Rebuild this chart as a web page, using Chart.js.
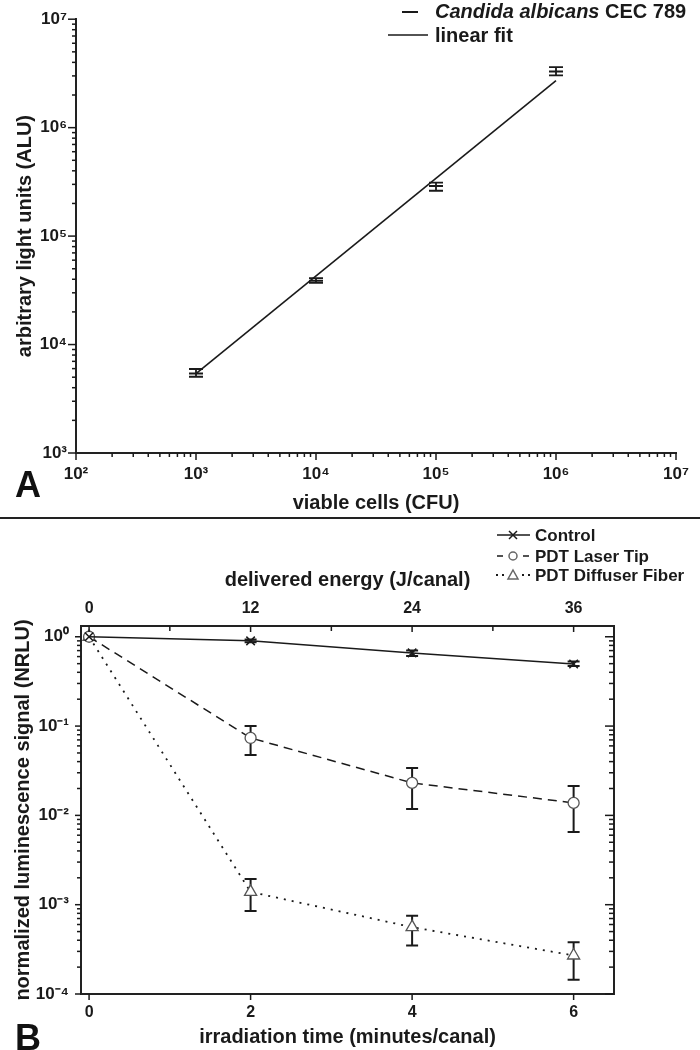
<!DOCTYPE html>
<html><head><meta charset="utf-8">
<script src="https://cdn.jsdelivr.net/npm/chart.js@4.4.0/dist/chart.umd.min.js"></script>
<style>
html,body{margin:0;padding:0;background:#fff;}
#wrap{position:relative;width:700px;height:1050px;overflow:hidden;background:#fff;}
#cA{position:absolute;left:0;top:0;}
#cB{position:absolute;left:0;top:520px;}
#sep{position:absolute;left:0;top:517px;width:700px;height:2px;background:#222;}
.panel{position:absolute;font:bold 36px "Liberation Sans",Arial,sans-serif;line-height:36px;color:#111;}
</style></head><body>
<div id="wrap">
<canvas id="cA" width="700" height="518"></canvas>
<div id="sep"></div>
<canvas id="cB" width="700" height="530"></canvas>
<div class="panel" style="left:15px;top:467px;">A</div>
<div class="panel" style="left:15px;top:1020px;">B</div>
</div>
<script>
// ---------- Panel A data ----------
const xTicksA=[1e2,1e3,1e4,1e5,1e6,1e7];
const xTickLabelsA=['10²','10³','10⁴','10⁵','10⁶','10⁷'];
const yTicksA=[1e3,1e4,1e5,1e6,1e7];
const yTickLabelsA=['10³','10⁴','10⁵','10⁶','10⁷'];
const cellsA=[1e3,1e4,1e5,1e6];
const aluA=[5400,38800,290000,3300000];
const aluLowA=[5050,37000,262000,3030000];
const aluHighA=[5950,41000,311000,3620000];
const fitXA=[1e3,1e6];
const fitYA=[5400,2720000];
const seriesNameA='Candida albicans';
const strainA='CEC 789';
const fitNameA='linear fit';

// ---------- Panel B data ----------
const timeB=[0,2,4,6];
const xTicksB=[0,2,4,6];
const energyTicksB=[0,12,24,36];
const energyMinorB=[6,18,30];
const yTicksB=[1e-4,1e-3,1e-2,1e-1,1];
const yTickLabelsB=['10⁻⁴','10⁻³','10⁻²','10⁻¹','10⁰'];
const controlB=[1,0.90,0.66,0.495];
const controlLowB=[null,0.87,0.61,0.47];
const controlHighB=[null,0.93,0.70,0.53];
const laserB=[1,0.0736,0.0231,0.0138];
const laserLowB=[null,0.0474,0.0118,0.0065];
const laserHighB=[null,0.100,0.034,0.0213];
const diffB=[1,0.00139,0.00056,0.00027];
const diffLowB=[null,0.00085,0.00035,0.000144];
const diffHighB=[null,0.00194,0.00075,0.00038];
const seriesNamesB=['Control','PDT Laser Tip','PDT Diffuser Fiber'];

const FONT='"Liberation Sans", Arial, sans-serif';
const INK='#1a1a1a';
Chart.defaults.font.family=FONT;
Chart.defaults.font.weight='bold';
Chart.defaults.color=INK;

function logMinors(decades){const out=[];for(let i=0;i<decades.length-1;i++){for(let k=2;k<=9;k++)out.push(decades[i]*k);}return out;}

// error bars through scales
const errorBars={id:'errorBars',beforeDatasetsDraw(chart,args,opts){
  const ctx=chart.ctx;ctx.save();ctx.strokeStyle=INK;ctx.lineWidth=opts.lineWidth||2;
  chart.data.datasets.forEach((ds,di)=>{
    if(!ds.errLow)return;
    const xs=chart.scales[ds.xAxisID||'x'],ys=chart.scales[ds.yAxisID||'y'];
    ds.data.forEach((pt,i)=>{
      const lo=ds.errLow[i],hi=ds.errHigh[i];if(lo==null||hi==null)return;
      const px=xs.getPixelForValue(pt.x),p1=ys.getPixelForValue(lo),p2=ys.getPixelForValue(hi);
      const w=opts.cap||6;
      ctx.beginPath();ctx.moveTo(px,p1);ctx.lineTo(px,p2);
      ctx.moveTo(px-w,p1);ctx.lineTo(px+w,p1);ctx.moveTo(px-w,p2);ctx.lineTo(px+w,p2);ctx.stroke();
    });
  });
  ctx.restore();
}};

// tick marks through scales
const tickMarks={id:'tickMarks',afterDraw(chart,args,opts){
  const ctx=chart.ctx,ca=chart.chartArea;ctx.save();ctx.strokeStyle=INK;ctx.lineWidth=opts.lineWidth||1.5;
  (opts.items||[]).forEach(t=>{
    const s=chart.scales[t.scale];
    t.values.forEach(v=>{
      const p=s.getPixelForValue(v);const sgn=t.out?1:-1;ctx.beginPath();
      if(t.edge==='bottom'){ctx.moveTo(p,ca.bottom);ctx.lineTo(p,ca.bottom+sgn*t.len);}
      else if(t.edge==='top'){ctx.moveTo(p,ca.top);ctx.lineTo(p,ca.top-sgn*t.len);}
      else if(t.edge==='left'){ctx.moveTo(ca.left,p);ctx.lineTo(ca.left-sgn*t.len,p);}
      else {ctx.moveTo(ca.right,p);ctx.lineTo(ca.right+sgn*t.len,p);}
      ctx.stroke();
    });
  });
  ctx.restore();
}};

// ---------- Chart A ----------
const legendA={id:'legendA',afterDraw(chart){
  const ctx=chart.ctx;ctx.save();ctx.strokeStyle=INK;ctx.fillStyle=INK;
  ctx.lineWidth=2;ctx.beginPath();ctx.moveTo(402,12);ctx.lineTo(418,12);ctx.stroke();
  ctx.lineWidth=1.5;ctx.beginPath();ctx.moveTo(388,35);ctx.lineTo(428,35);ctx.stroke();
  ctx.textBaseline='middle';ctx.textAlign='left';
  ctx.font='italic bold 20px '+FONT;ctx.fillText(seriesNameA,435,12);
  const w=ctx.measureText(seriesNameA+' ').width;
  ctx.font='bold 20px '+FONT;ctx.fillText(strainA,435+w,12);
  ctx.fillText(fitNameA,435,36);
  ctx.restore();
}};

new Chart(document.getElementById('cA'),{
  type:'scatter',
  data:{datasets:[
    {label:seriesNameA+' '+strainA,data:cellsA.map((x,i)=>({x,y:aluA[i]})),errLow:aluLowA,errHigh:aluHighA,
     showLine:false,pointStyle:'line',pointRadius:7,pointBorderWidth:2,borderColor:INK,backgroundColor:INK},
    {label:fitNameA,data:fitXA.map((x,i)=>({x,y:fitYA[i]})),showLine:true,pointRadius:0,borderColor:INK,borderWidth:1.6}
  ]},
  options:{
    responsive:false,animation:false,
    layout:{padding:{left:0,right:24,top:15,bottom:0}},
    plugins:{legend:{display:false},tooltip:{enabled:false},
      errorBars:{cap:7,lineWidth:1.8},
      tickMarks:{lineWidth:1.5,items:[
        {scale:'x',edge:'bottom',out:true,len:7,values:xTicksA},
        {scale:'x',edge:'bottom',out:true,len:4,values:logMinors(xTicksA)},
        {scale:'y',edge:'left',out:true,len:8,values:yTicksA},
        {scale:'y',edge:'left',out:true,len:4,values:logMinors(yTicksA)}
      ]}},
    scales:{
      x:{type:'logarithmic',position:'bottom',min:1e2,max:1e7,bounds:'data',
        afterBuildTicks:s=>{s.ticks=xTicksA.map(v=>({value:v}));},
        afterFit:s=>{s.height=65;},
        ticks:{autoSkip:false,maxRotation:0,padding:11,color:INK,font:{size:17,weight:'bold'},callback:(v,i)=>xTickLabelsA[i]},
        grid:{display:false,drawTicks:false},border:{display:true,color:'#222',width:2},
        title:{display:true,text:'viable cells (CFU)',color:INK,font:{size:20,weight:'bold'},padding:{top:0,bottom:3}}},
      y:{type:'logarithmic',position:'left',min:1e3,max:1e7,bounds:'data',
        afterBuildTicks:s=>{s.ticks=yTicksA.map(v=>({value:v}));},
        afterFit:s=>{s.width=76;},
        ticks:{autoSkip:false,padding:9,color:INK,font:{size:17,weight:'bold'},callback:(v,i)=>yTickLabelsA[i]},
        grid:{display:false,drawTicks:false},border:{display:true,color:'#222',width:2},
        title:{display:true,text:'arbitrary light units (ALU)',color:INK,font:{size:20,weight:'bold'},padding:{top:13,bottom:0}}}
    }
  },
  plugins:[errorBars,tickMarks,legendA]
});

// ---------- Chart B ----------
const legendB={id:'legendB',afterDraw(chart){
  const ctx=chart.ctx;ctx.save();ctx.strokeStyle=INK;ctx.fillStyle=INK;ctx.lineWidth=1.5;
  const rows=[15,36,55];
  // Control
  ctx.beginPath();ctx.moveTo(497,rows[0]);ctx.lineTo(530,rows[0]);ctx.stroke();
  ctx.beginPath();ctx.moveTo(509,rows[0]-4);ctx.lineTo(517,rows[0]+4);ctx.moveTo(509,rows[0]+4);ctx.lineTo(517,rows[0]-4);ctx.stroke();
  // Laser
  ctx.beginPath();ctx.moveTo(497,rows[1]);ctx.lineTo(503,rows[1]);ctx.moveTo(523,rows[1]);ctx.lineTo(529,rows[1]);ctx.stroke();
  ctx.strokeStyle='#666';ctx.beginPath();ctx.arc(513,rows[1],4,0,Math.PI*2);ctx.stroke();
  // Diffuser
  ctx.fillStyle=INK;[497,503,523,529].forEach(x=>ctx.fillRect(x-1,rows[2]-1,2,2));
  ctx.beginPath();ctx.moveTo(513,rows[2]-5);ctx.lineTo(518,rows[2]+4);ctx.lineTo(508,rows[2]+4);ctx.closePath();ctx.stroke();
  ctx.fillStyle=INK;ctx.textBaseline='middle';ctx.textAlign='left';ctx.font='bold 17px '+FONT;
  seriesNamesB.forEach((n,i)=>ctx.fillText(n,535,rows[i]+1));
  ctx.restore();
}};

new Chart(document.getElementById('cB'),{
  type:'scatter',
  data:{datasets:[
    {label:seriesNamesB[0],data:timeB.map((x,i)=>({x,y:controlB[i]})),errLow:controlLowB,errHigh:controlHighB,
     showLine:true,borderColor:INK,borderWidth:1.5,pointStyle:'crossRot',pointRadius:6,pointBorderWidth:1.5,pointBorderColor:INK,pointBackgroundColor:INK},
    {label:seriesNamesB[1],data:timeB.map((x,i)=>({x,y:laserB[i]})),errLow:laserLowB,errHigh:laserHighB,
     showLine:true,borderColor:INK,borderWidth:1.5,borderDash:[9,6],pointStyle:'circle',pointRadius:5.5,pointBorderWidth:1.3,pointBorderColor:'#555',pointBackgroundColor:'#fff'},
    {label:seriesNamesB[2],data:timeB.map((x,i)=>({x,y:diffB[i]})),errLow:diffLowB,errHigh:diffHighB,
     showLine:true,borderColor:INK,borderWidth:1.8,borderDash:[2,6],pointStyle:'triangle',pointRadius:7,pointBorderWidth:1.3,pointBorderColor:'#555',pointBackgroundColor:'#fff'}
  ]},
  options:{
    responsive:false,animation:false,
    layout:{padding:{left:0,right:86,top:0,bottom:0}},
    plugins:{legend:{display:false},tooltip:{enabled:false},
      errorBars:{cap:6,lineWidth:2},
      tickMarks:{lineWidth:1.5,items:[
        {scale:'x',edge:'bottom',out:true,len:6,values:xTicksB},
        {scale:'x2',edge:'top',out:false,len:6,values:energyTicksB},
        {scale:'x2',edge:'top',out:false,len:5,values:energyMinorB},
        {scale:'y',edge:'left',out:true,len:6,values:yTicksB},
        {scale:'y',edge:'left',out:true,len:4,values:logMinors(yTicksB)},
        {scale:'y',edge:'right',out:false,len:9,values:yTicksB},
        {scale:'y',edge:'right',out:false,len:5,values:logMinors(yTicksB)}
      ]}},
    scales:{
      x:{type:'linear',position:'bottom',min:-0.1,max:6.5,bounds:'data',
        afterBuildTicks:s=>{s.ticks=xTicksB.map(v=>({value:v}));},
        afterFit:s=>{s.height=56;},
        ticks:{autoSkip:false,maxRotation:0,padding:9,color:INK,font:{size:16,weight:'bold'},callback:(v)=>String(v)},
        grid:{display:false,drawTicks:false},border:{display:true,color:'#222',width:2},
        title:{display:true,text:'irradiation time (minutes/canal)',color:INK,font:{size:20,weight:'bold'},padding:{top:0,bottom:1}}},
      x2:{type:'linear',position:'top',min:-0.6,max:39,bounds:'data',
        afterBuildTicks:s=>{s.ticks=energyTicksB.map(v=>({value:v}));},
        afterFit:s=>{s.height=106;},
        ticks:{autoSkip:false,maxRotation:0,padding:8,color:INK,font:{size:16,weight:'bold'},callback:(v)=>String(v)},
        grid:{display:false,drawTicks:false},border:{display:true,color:'#222',width:2},
        title:{display:true,text:'delivered energy (J/canal)',color:INK,font:{size:20,weight:'bold'},padding:{top:48,bottom:0}}},
      y:{type:'logarithmic',position:'left',min:1e-4,max:1.32,bounds:'data',
        afterBuildTicks:s=>{s.ticks=yTicksB.map(v=>({value:v}));},
        afterFit:s=>{s.width=81;},
        ticks:{autoSkip:false,padding:12,color:INK,font:{size:17,weight:'bold'},callback:(v,i)=>yTickLabelsB[i]},
        grid:{display:false,drawTicks:false},border:{display:true,color:'#222',width:2},
        title:{display:true,text:'normalized luminescence signal (NRLU)',color:INK,font:{size:20,weight:'bold'},padding:{top:11,bottom:0}}},
      y2:{type:'logarithmic',position:'right',min:1e-4,max:1.32,bounds:'data',
        afterFit:s=>{s.width=0;},
        ticks:{display:false},
        grid:{display:false,drawTicks:false},border:{display:true,color:'#222',width:2}}
    }
  },
  plugins:[errorBars,tickMarks,legendB]
});
</script>
</body></html>
